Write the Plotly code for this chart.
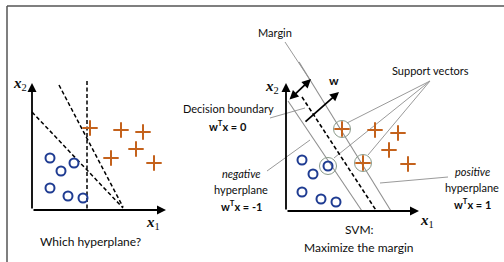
import plotly.graph_objects as go

W, H = 504, 262

# ---------------- data (panel units: x1, x2) ----------------
# left panel: "Which hyperplane?"
left_circle_x1 = [1.8, 2.9, 4.2, 1.8, 3.6, 5.1]
left_circle_x2 = [5.2, 3.9, 4.7, 2.2, 1.4, 1.2]
left_plus_x1 = [5.8, 8.9, 11.1, 10.4, 7.9, 12.2]
left_plus_x2 = [8.2, 8.0, 7.8, 6.1, 5.2, 4.7]
# candidate hyperplanes (start/end points)
left_planes = [
    ([0.0, 9.1], [9.8, 0.2]),
    ([2.7, 9.1], [12.5, 0.3]),
    ([5.5, 5.5], [12.9, 0.0]),
]

# right panel: "SVM: Maximize the margin"
right_circle_x1 = [1.6, 2.7, 4.2, 1.6, 3.5, 5.0]
right_circle_x2 = [5.1, 3.7, 4.5, 1.9, 1.2, 0.9]
right_plus_x1 = [5.6, 8.9, 11.2, 10.3, 12.2, 7.7]
right_plus_x2 = [8.2, 8.1, 7.8, 6.1, 4.7, 4.8]
sv_x1 = [5.6, 4.2, 7.7]
sv_x2 = [8.2, 4.5, 4.8]
neg_plane = ([0.2, 7.6], [11.0, 0.0])
decision_plane = ([1.6, 9.05], [11.4, 0.0])
pos_plane = ([1.3, 10.5], [14.9, 0.0])
margin_arrow = ([0.2, 2.5], [11.0, 13.2])
w_arrow = ([1.8, 5.3], [8.8, 11.9])
# leader lines (label anchor -> target)
leaders = [
    ([-0.1, 2.4], [16.9, 13.1]),    # Margin
    ([-1.6, 1.9], [9.3, 10.3]),     # Decision boundary
    ([-1.9, 2.4], [4.0, 7.1]),      # negative hyperplane
    ([14.4, 6.1], [13.0, 8.8]),     # support vectors
    ([14.4, 4.8], [13.0, 5.3]),
    ([14.4, 8.2], [13.0, 5.6]),
    ([16.2, 9.4], [3.4, 2.8]),      # positive hyperplane
]

BLUE = "#1f3c92"
ORANGE = "#c4621c"
FONT = "Lato"

fig = go.Figure()

def pts(xs, ys, color, symbol, size, ax):
    fig.add_trace(go.Scatter(
        x=xs, y=ys, mode="markers", xaxis=ax[0], yaxis=ax[1],
        marker=dict(symbol=symbol, size=size, color=color,
                    line=dict(color=color, width=2)),
        hoverinfo="skip", showlegend=False))

def line(xs, ys, ax, color="black", width=1.6, dash="solid"):
    fig.add_trace(go.Scatter(
        x=xs, y=ys, mode="lines", xaxis=ax[0], yaxis=ax[1],
        line=dict(color=color, width=width, dash=dash),
        hoverinfo="skip", showlegend=False))

L = ("x", "y")
R = ("x2", "y2")

# left panel
for xs, ys in left_planes:
    line(xs, ys, L, width=1.5, dash="4px,2.5px")
pts(left_circle_x1, left_circle_x2, BLUE, "circle-open", 9, L)
pts(left_plus_x1, left_plus_x2, ORANGE, "cross-thin-open", 11, L)

# right panel
for xs, ys in leaders:
    line(xs, ys, R, color="#9a9a9a", width=1)
line(*neg_plane, R, color="#8f8f8f", width=1.1)
line(*pos_plane, R, color="#8f8f8f", width=1.1)
line(*decision_plane, R, width=1.6, dash="4px,2.5px")
fig.add_trace(go.Scatter(
    x=sv_x1, y=sv_x2, mode="markers", xaxis="x2", yaxis="y2",
    marker=dict(symbol="circle-open", size=17, color="#8a9a8a",
                line=dict(color="#8a9a8a", width=1)),
    hoverinfo="skip", showlegend=False))
pts(right_circle_x1, right_circle_x2, BLUE, "circle-open", 9, R)
pts(right_plus_x1, right_plus_x2, ORANGE, "cross-thin-open", 11, R)

anns = []

def arrow(xs, ys, ax, both=False, width=1.8):
    anns.append(dict(
        x=xs[1], y=ys[1], ax=xs[0], ay=ys[0],
        xref=ax[0], yref=ax[1], axref=ax[0], ayref=ax[1],
        showarrow=True, arrowhead=2, arrowsize=1, arrowwidth=width,
        arrowcolor="black", arrowside="end+start" if both else "end",
        startarrowhead=2, startarrowsize=1, text=""))

# axes with arrowheads
arrow([0, 13.4], [0, 0], L)
arrow([0, 0], [0, 12.7], L)
arrow([0, 13.3], [0, 0], R)
arrow([0, 0], [0, 12.8], R)
arrow(*margin_arrow, R, both=True)
arrow(*w_arrow, R)

def txt(text, px, py, size=11, family=FONT, color="#0d0d0d"):
    anns.append(dict(text=text, x=px / W, y=1 - py / H, xref="paper",
                     yref="paper", showarrow=False, xanchor="center",
                     yanchor="middle",
                     font=dict(size=size, family=family, color=color)))

SERIF = "Liberation Serif"
txt("<b><i>x</i></b><sub>2</sub>", 20, 84, 15, SERIF)
txt("<b><i>x</i></b><sub>1</sub>", 153, 223, 15, SERIF)
txt("<b><i>x</i></b><sub>2</sub>", 272, 87, 15, SERIF)
txt("<b><i>x</i></b><sub>1</sub>", 427, 221, 15, SERIF)
txt("Which hyperplane?", 90, 241, 12)
txt("Margin", 275, 33, 11)
txt("<b>w</b>", 334, 80, 12)
txt("Support vectors", 430, 70, 11)
txt("Decision boundary", 228, 109, 11)
txt("<b>w<sup>T</sup>x = 0</b>", 228, 125, 11)
txt("<i>negative</i>", 241, 173, 11)
txt("hyperplane", 241, 189, 11)
txt("<b>w<sup>T</sup>x = -1</b>", 241, 205, 11)
txt("<i>positive</i>", 472, 171, 11)
txt("hyperplane", 472, 187, 11)
txt("<b>w<sup>T</sup>x = 1</b>", 472, 203, 11)
txt("SVM:", 359, 229, 12)
txt("Maximize the margin", 359, 247, 12)

# frame lines
shapes = [
    dict(type="line", xref="paper", yref="paper", x0=7 / W, x1=1,
         y0=1 - 6 / H, y1=1 - 6 / H, line=dict(color="#555", width=1.5)),
    dict(type="line", xref="paper", yref="paper", x0=7 / W, x1=7 / W,
         y0=0, y1=1 - 6 / H, line=dict(color="#555", width=1.5)),
]

ax_common = dict(visible=False, showgrid=False, zeroline=False, domain=[0, 1])
fig.update_layout(
    width=W, height=H, margin=dict(l=0, r=0, t=0, b=0),
    paper_bgcolor="white", plot_bgcolor="white",
    xaxis=dict(range=[-3.2, 47.2], **ax_common),
    yaxis=dict(range=[-5.2, 21.0], **ax_common),
    xaxis2=dict(range=[-28.6, 21.8], overlaying="x", **ax_common),
    yaxis2=dict(range=[-5.1, 21.1], overlaying="y", **ax_common),
    annotations=anns, shapes=shapes, showlegend=False,
)

fig.write_html(
    "out.html",
    config={"displayModeBar": False},
    post_script="document.body.style.margin='0';"
                "document.body.style.overflow='hidden';",
)
